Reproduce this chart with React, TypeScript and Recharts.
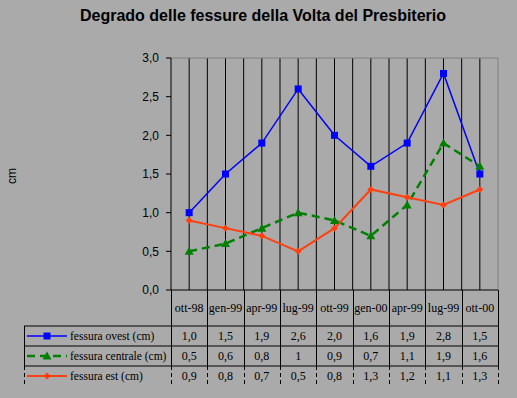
import { LineChart, Line, XAxis, YAxis, CartesianGrid } from 'recharts';

const categorie = ['ott-98', 'gen-99', 'apr-99', 'lug-99', 'ott-99', 'gen-00', 'apr-99', 'lug-99', 'ott-00'];
const fessuraOvest = [1.0, 1.5, 1.9, 2.6, 2.0, 1.6, 1.9, 2.8, 1.5];
const fessuraCentrale = [0.5, 0.6, 0.8, 1, 0.9, 0.7, 1.1, 1.9, 1.6];
const fessuraEst = [0.9, 0.8, 0.7, 0.5, 0.8, 1.3, 1.2, 1.1, 1.3];
const tickY = [0, 0.5, 1, 1.5, 2, 2.5, 3];

const W = 517;
const H = 398;
const SFONDO = '#aaaaaa';
const margine = { top: 58, right: 19, bottom: 108, left: 131 };
const plotSx = 171;
const plotDx = W - margine.right;
const colW = (plotDx - plotSx) / categorie.length;

const virgola = (v: number) => String(v).replace('.', ',');
const fisso = (v: number) => v.toFixed(1).replace('.', ',');

const serie = [
  { chiave: 'ovest', nome: 'fessura ovest (cm)', valori: fessuraOvest, colore: '#0000ff', formato: fisso },
  { chiave: 'centrale', nome: 'fessura centrale (cm)', valori: fessuraCentrale, colore: '#008000', formato: virgola },
  { chiave: 'est', nome: 'fessura est (cm)', valori: fessuraEst, colore: '#ff4010', formato: fisso },
];

const dati = categorie.map((c, i) => ({
  idx: i,
  cat: c,
  ovest: fessuraOvest[i],
  centrale: fessuraCentrale[i],
  est: fessuraEst[i],
}));

const Quadrato = (props: any) => {
  const { cx, cy, index } = props;
  if (cx == null || cy == null) return <g key={`q-${index}`} />;
  return <rect key={`q-${index}`} x={cx - 3.5} y={cy - 3.5} width={7} height={7} fill="#0000ff" />;
};

const Triangolo = (props: any) => {
  const { cx, cy, index } = props;
  if (cx == null || cy == null) return <g key={`t-${index}`} />;
  return (
    <path key={`t-${index}`} d={`M${cx},${cy - 4.5} L${cx + 4.5},${cy + 3.5} L${cx - 4.5},${cy + 3.5} Z`} fill="#008000" />
  );
};

const Rombo = (props: any) => {
  const { cx, cy, index } = props;
  if (cx == null || cy == null) return <g key={`r-${index}`} />;
  return (
    <path key={`r-${index}`} d={`M${cx},${cy - 3.5} L${cx + 3.5},${cy} L${cx},${cy + 3.5} L${cx - 3.5},${cy} Z`} fill="#ff4010" />
  );
};

const simboli = [Quadrato, Triangolo, Rombo];
const tratteggi = [undefined, '8 5', undefined];
const spessori = [1.5, 2.5, 2];

function Tabella() {
  const righe = [290, 326, 346, 366, 386];
  const serif = '"Liberation Serif", "Times New Roman", serif';
  return (
    <svg width={W} height={H} style={{ position: 'absolute', left: 0, top: 0, pointerEvents: 'none' }}>
      <text x={263} y={21} textAnchor="middle" fontFamily="Liberation Sans, Arial" fontWeight="bold" fontSize={16} fill="#000">
        Degrado delle fessure della Volta del Presbiterio
      </text>
      <text x={16} y={176} textAnchor="middle" fontFamily="Liberation Sans, Arial" fontSize={12} fill="#000" transform="rotate(-90 16 176)">
        cm
      </text>
      {/* linee orizzontali */}
      <line x1={plotSx} x2={plotDx} y1={righe[0]} y2={righe[0]} stroke="#000" />
      {[1, 2, 3].map((r) => (
        <line key={`h${r}`} x1={24} x2={plotDx} y1={righe[r]} y2={righe[r]} stroke="#000" />
      ))}
      {/* linee verticali */}
      {Array.from({ length: categorie.length + 1 }).map((_, i) => {
        const x = Math.round(plotSx + i * colW) + 0.5;
        return (
          <g key={`v${i}`}>
            <line x1={x} x2={x} y1={righe[0]} y2={righe[3]} stroke="#000" />
            <line x1={x} x2={x} y1={righe[3]} y2={righe[4] - 2} stroke="#000" strokeDasharray="4 3" />
          </g>
        );
      })}
      <line x1={24.5} x2={24.5} y1={righe[1]} y2={righe[3]} stroke="#000" />
      <line x1={24.5} x2={24.5} y1={righe[3]} y2={righe[4] - 2} stroke="#000" strokeDasharray="4 3" />
      {categorie.map((c, i) => (
        <text key={`c${i}`} x={plotSx + (i + 0.5) * colW} y={312} textAnchor="middle" fontFamily={serif} fontSize={12} fill="#000">
          {c}
        </text>
      ))}
      {serie.map((s, r) => {
        const yc = (righe[r + 1] + righe[r + 2]) / 2;
        const Simbolo = simboli[r];
        return (
          <g key={s.chiave}>
            <line x1={27} x2={67} y1={yc} y2={yc} stroke={s.colore} strokeWidth={spessori[r]} strokeDasharray={tratteggi[r]} />
            {Simbolo({ cx: 47, cy: yc, index: 99 })}
            <text x={70} y={yc + 4} fontFamily={serif} fontSize={11.5} fill="#000">
              {s.nome}
            </text>
            {s.valori.map((v, i) => (
              <text key={i} x={plotSx + (i + 0.5) * colW} y={yc + 4} textAnchor="middle" fontFamily={serif} fontSize={12} fill="#000">
                {s.formato(v)}
              </text>
            ))}
          </g>
        );
      })}
    </svg>
  );
}

export default function App() {
  const griglia = ({ offset }: any) => {
    const out: number[] = [];
    const passo = offset.width / categorie.length;
    for (let i = 1; i < categorie.length * 2; i++) out.push(offset.left + (i * passo) / 2);
    return out;
  };
  return (
    <div style={{ position: 'absolute', left: 0, top: 0, width: W, height: H, background: SFONDO }}>
      <LineChart width={W} height={H} data={dati} margin={margine}>
        <CartesianGrid horizontal={false} stroke="#000" verticalCoordinatesGenerator={griglia} />
        <CartesianGrid
          stroke="#808080"
          horizontalCoordinatesGenerator={({ offset }: any) => [offset.top]}
          verticalCoordinatesGenerator={({ offset }: any) => [offset.left + offset.width]}
        />
        <XAxis dataKey="idx" type="category" scale="band" hide />
        <YAxis
          width={40}
          domain={[0, 3]}
          ticks={tickY}
          tickFormatter={fisso}
          axisLine={{ stroke: '#000' }}
          tickLine={{ stroke: '#000' }}
          tickSize={5}
          tickMargin={7}
          tick={{ fill: '#000', fontSize: 12, fontFamily: 'Liberation Sans, Arial' }}
        />
        {serie.map((s, r) => (
          <Line
            key={s.chiave}
            dataKey={s.chiave}
            name={s.nome}
            stroke={s.colore}
            strokeWidth={spessori[r]}
            strokeDasharray={tratteggi[r]}
            dot={simboli[r]}
            activeDot={false}
            isAnimationActive={false}
          />
        ))}
      </LineChart>
      <Tabella />
    </div>
  );
}
